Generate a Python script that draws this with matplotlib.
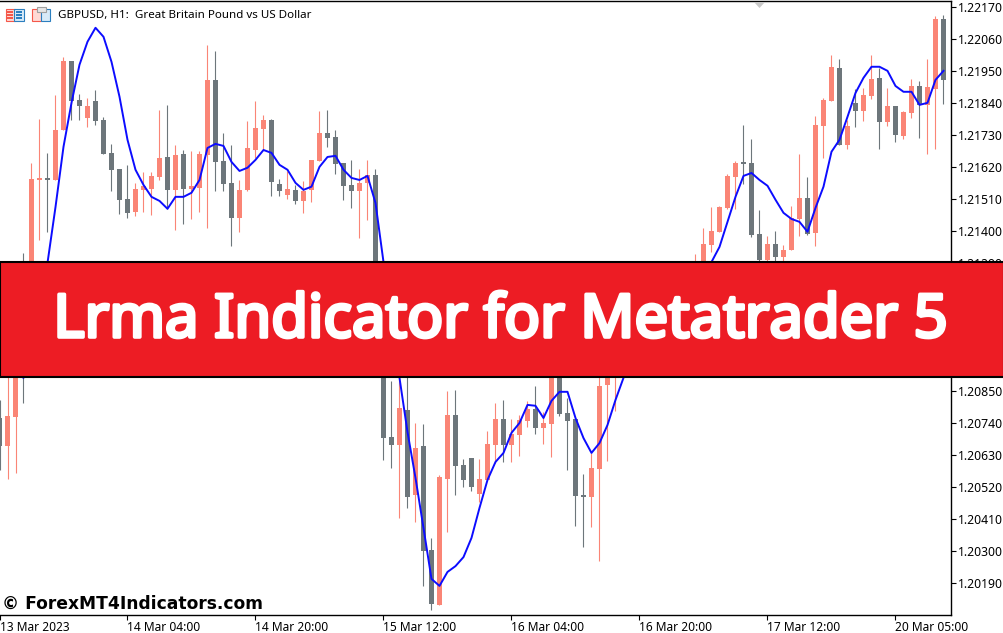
import numpy as np
import matplotlib
matplotlib.use('Agg')
import matplotlib.pyplot as plt
import matplotlib.patheffects as pe
from matplotlib.patches import Rectangle, Polygon

# GBPUSD H1 candles, in points (1.22170 -> 122170). Bars 78-87 sit behind the banner, so those are guesses.
open_pts = [120757, 120661, 120761, 121163, 121163, 121575, 121582, 121575, 121747, 121984,
            121850, 121788, 121847, 121782, 121668, 121613, 121510, 121465, 121541, 121544,
            121586, 121654, 121541, 121665, 121544, 121548, 121661, 121919, 121641, 121565,
            121445, 121541, 121678, 121751, 121782, 121562, 121524, 121541, 121503, 121541,
            121641, 121737, 121723, 121634, 121558, 121537, 121565, 121592, 121163, 120692,
            120664, 120785, 120492, 120661, 120303, 120114, 120547, 120767, 120596, 120620,
            120496, 120544, 120664, 120754, 120664, 120699, 120747, 120788, 120723, 120737,
            120957, 120774, 120754, 120492, 120486, 120582, 120871, 120922, 121025, 121100,
            121060, 121150, 121090, 121130, 121190, 121120, 121170, 121210, 121266, 121352,
            121397, 121479, 121586, 121637, 121634, 121390, 121300, 121355, 121311, 121335,
            121441, 121513, 121393, 121761, 121847, 121960, 121696, 121840, 121812, 121864,
            121926, 121775, 121830, 121727, 121806, 121898, 121833, 121888, 122129]
high_pts = [120819, 120922, 121060, 121324, 121634, 121785, 121668, 121867, 121998, 121984,
            121871, 121857, 121885, 121792, 121699, 121613, 121627, 121565, 121603, 121603,
            121816, 121833, 121696, 121678, 121675, 121675, 122039, 122019, 121737, 121696,
            121575, 121778, 121847, 121799, 121785, 121579, 121606, 121558, 121572, 121644,
            121812, 121816, 121747, 121634, 121644, 121613, 121644, 121613, 121197, 120884,
            120939, 120939, 120740, 120737, 120345, 120561, 120850, 120853, 120616, 120620,
            120616, 120712, 120809, 120819, 120754, 120767, 120816, 120867, 120778, 121008,
            121008, 120826, 120754, 120565, 120637, 120939, 120991, 121077, 121140, 121160,
            121190, 121180, 121170, 121230, 121220, 121200, 121250, 121321, 121410, 121482,
            121486, 121596, 121641, 121764, 121716, 121472, 121383, 121400, 121352, 121486,
            121665, 121586, 121795, 121857, 122005, 121991, 121782, 121888, 121892, 122005,
            121960, 121892, 121830, 121812, 121923, 121916, 121991, 122139, 122142]
low_pts = [120578, 120547, 120568, 120809, 121128, 121369, 121397, 121575, 121747, 121782,
           121782, 121757, 121764, 121665, 121537, 121458, 121445, 121452, 121465, 121455,
           121575, 121476, 121403, 121424, 121441, 121465, 121410, 121537, 121537, 121348,
           121397, 121537, 121651, 121678, 121520, 121520, 121510, 121493, 121462, 121500,
           121641, 121689, 121596, 121507, 121479, 121376, 121438, 121060, 120613, 120585,
           120413, 120448, 120400, 120180, 120097, 120114, 120365, 120492, 120520, 120506,
           120468, 120544, 120602, 120606, 120606, 120627, 120726, 120702, 120668, 120623,
           120764, 120578, 120386, 120314, 120383, 120266, 120609, 120781, 120960, 121000,
           121020, 121050, 121050, 121100, 121080, 121090, 121140, 121170, 121197, 121328,
           121397, 121476, 121476, 121562, 121379, 121266, 121266, 121266, 121266, 121335,
           121383, 121386, 121348, 121651, 121847, 121696, 121682, 121757, 121778, 121854,
           121682, 121761, 121706, 121716, 121788, 121720, 121665, 121682, 121837]
close_pts = [120661, 120764, 121025, 121025, 121579, 121582, 121575, 121747, 121984, 121847,
             121830, 121830, 121778, 121665, 121610, 121507, 121462, 121544, 121555, 121589,
             121651, 121541, 121661, 121544, 121555, 121665, 121919, 121637, 121562, 121445,
             121541, 121685, 121754, 121782, 121568, 121537, 121544, 121503, 121537, 121644,
             121737, 121720, 121630, 121555, 121537, 121565, 121592, 121163, 120688, 120664,
             120792, 120486, 120654, 120300, 120118, 120554, 120767, 120592, 120544, 120520,
             120547, 120668, 120754, 120664, 120702, 120750, 120788, 120723, 120740, 120957,
             120771, 120747, 120489, 120486, 120585, 120867, 120957, 121025, 121100, 121060,
             121150, 121090, 121130, 121190, 121120, 121170, 121210, 121260, 121355, 121400,
             121482, 121589, 121634, 121630, 121386, 121300, 121355, 121311, 121335, 121445,
             121513, 121390, 121764, 121850, 121964, 121696, 121761, 121812, 121867, 121923,
             121775, 121830, 121730, 121809, 121898, 121833, 121895, 122129, 121919]
lrma_pts = [120957, 120939, 120915, 120895, 121025, 121159, 121290, 121482, 121689, 121840,
            121971, 122050, 122098, 122067, 121981, 121861, 121713, 121610, 121558, 121517,
            121503, 121476, 121517, 121517, 121531, 121575, 121685, 121699, 121692, 121637,
            121606, 121617, 121644, 121678, 121668, 121627, 121610, 121565, 121541, 121552,
            121620, 121654, 121658, 121610, 121582, 121575, 121589, 121496, 121293, 121094,
            120895, 120709, 120551, 120379, 120204, 120180, 120228, 120248, 120279, 120345,
            120448, 120544, 120606, 120637, 120706, 120740, 120802, 120799, 120757, 120816,
            120847, 120847, 120757, 120688, 120637, 120671, 120733, 120819, 120895, 120991,
            121053, 121101, 121146, 121180, 121204, 121221, 121235, 121252, 121266, 121293,
            121345, 121431, 121517, 121589, 121599, 121575, 121555, 121507, 121462, 121441,
            121431, 121397, 121479, 121552, 121672, 121713, 121792, 121874, 121926, 121964,
            121964, 121950, 121898, 121878, 121878, 121833, 121840, 121919, 121950]

price_ticks = [1.22170, 1.22060, 1.21950, 1.21840, 1.21730, 1.21620, 1.21510, 1.21400, 1.21290,
               1.20850, 1.20740, 1.20630, 1.20520, 1.20410, 1.20300, 1.20190]
time_ticks = [0, 16, 32, 48, 64, 80, 96, 112]
time_labels = ['13 Mar 2023', '14 Mar 04:00', '14 Mar 20:00', '15 Mar 12:00',
               '16 Mar 04:00', '16 Mar 20:00', '17 Mar 12:00', '20 Mar 05:00']

UP = '#FA8576'
DOWN = '#6D767B'
W, H = 1004, 633
plt.rcParams['font.family'] = ['Noto Sans', 'DejaVu Sans']


def fig_rect(x, y, w, h, **kw):
    # pixel box, y measured from the top of the picture
    fig.add_artist(Rectangle((x / W, 1 - (y + h) / H), w / W, h / H,
                             transform=fig.transFigure, **kw))


o, c = np.array(open_pts) / 1e5, np.array(close_pts) / 1e5
hi, lo = np.array(high_pts) / 1e5, np.array(low_pts) / 1e5
lrma = np.array(lrma_pts) / 1e5
bars = np.arange(len(o))
colors = [UP if b >= a else DOWN for a, b in zip(o, c)]

fig = plt.figure(figsize=(W / 100, H / 100), dpi=100)
ax = fig.add_axes([-8 / W, 18 / H, 959 / W, 614 / H])
ax.set_xlim(-0.9375, 118.9375)
ax.set_ylim(1.20080, 1.22190)

ax.vlines(bars, lo, hi, colors=colors, linewidth=0.8, zorder=2)
body_bottom = np.minimum(o, c)
body_h = np.maximum(np.abs(c - o), 0.00005)
ax.bar(bars, body_h, bottom=body_bottom, width=0.625, color=colors, linewidth=0, zorder=3)
ax.plot(bars, lrma, color='#0C0CFF', linewidth=1.4, zorder=4)

ax.spines['left'].set_visible(False)
for side in ['top', 'right', 'bottom']:
    ax.spines[side].set_linewidth(1.0)
ax.yaxis.tick_right()
ax.set_yticks(price_ticks)
ax.set_yticklabels([f'{p:.5f}' for p in price_ticks])
ax.set_xticks(time_ticks)
ax.set_xticklabels(time_labels, ha='left')
ax.tick_params(axis='y', direction='out', length=3.5, width=0.8, pad=1.5, labelsize=8.8)
ax.tick_params(axis='x', direction='out', length=3.5, width=0.8, pad=0.5, labelsize=8.6)

# small marker at top of the chart
fig.add_artist(Polygon([(754 / W, 1 - 2 / H), (765 / W, 1 - 2 / H), (759.5 / W, 1 - 8 / H)],
                       closed=True, transform=fig.transFigure, fc='#C8C8C8', ec='none'))

# header icons
fig_rect(5.5, 8.5, 9, 12, fc='#FFD9D4', ec='#F4584A', lw=0.8)
fig_rect(14.5, 8.5, 9, 12, fc='#D8EAF8', ec='#2B7FBF', lw=0.8)
for k in (11.5, 14.5, 17.5):
    fig_rect(7, k, 6, 1, fc='#F4584A', ec='none')
    fig_rect(16, k, 6, 1, fc='#2B7FBF', ec='none')
fig_rect(32.5, 8.5, 9, 12, fc='#FFD9D4', ec='#F4584A', lw=0.8)
fig_rect(41.5, 8.5, 9, 12, fc='#D8EAF8', ec='#2B7FBF', lw=0.8)
fig_rect(37, 7, 9, 5, fc='#E6E6E6', ec='#A0A0A0', lw=0.8)

fig.text(58 / W, 1 - 15.5 / H, 'GBPUSD, H1:  Great Britain Pound vs US Dollar',
         fontsize=8.35, color='black', va='center', ha='left')

# banner and watermark
fig_rect(0, 262, W, 115, fc='#ED1C24', ec='black', lw=1.5, zorder=5)
# no bold Noto installed, so thicken the regular face with a white stroke
fig.text(501 / W, 1 - 321 / H, 'Lrma Indicator for Metatrader 5', color='white',
         family='Noto Sans', fontsize=43, ha='center', va='center', zorder=6,
         path_effects=[pe.withStroke(linewidth=2.6, foreground='white')])
fig.text(2 / W, 1 - 604 / H, '© ForexMT4Indicators.com', color='black',
         family='DejaVu Sans', fontsize=12.3, fontweight='bold', ha='left', va='center', zorder=6)

fig.savefig('out.png', dpi=100)
